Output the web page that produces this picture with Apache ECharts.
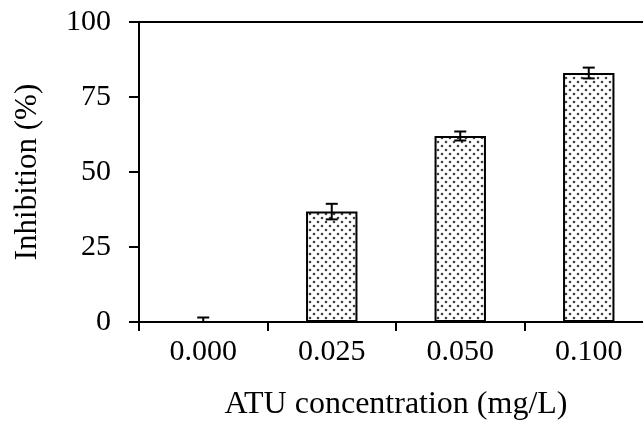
<!DOCTYPE html>
<html>
<head>
<meta charset="utf-8">
<script src="https://cdn.jsdelivr.net/npm/echarts@6/dist/echarts.min.js"></script>
<style>html,body{margin:0;padding:0;background:#fff}#c{width:643px;height:426px}</style>
</head>
<body>
<div id="c"></div>
<script>
var categories = ['0.000', '0.025', '0.050', '0.100'];
var inhibition = [0, 36.8, 62.0, 83.0];
var errors = [1.5, 2.6, 1.5, 1.8];
var yTicks = [0, 25, 50, 75, 100];

var FONT = '"Liberation Serif", "Times New Roman", serif';

function makePattern() {
  var c = document.createElement('canvas');
  c.width = 8; c.height = 8;
  var g = c.getContext('2d');
  g.fillStyle = '#ffffff';
  g.fillRect(0, 0, 8, 8);
  g.fillStyle = '#404040';
  g.beginPath(); g.arc(2, 2, 1.3, 0, Math.PI * 2); g.fill();
  g.beginPath(); g.arc(6, 6, 1.3, 0, Math.PI * 2); g.fill();
  return c;
}

var errData = inhibition.map(function (v, i) { return [i, Math.max(0, v - errors[i]), v + errors[i]]; });

var chart = echarts.init(document.getElementById('c'), null, { renderer: 'canvas' });
chart.setOption({
  animation: false,
  backgroundColor: '#ffffff',
  grid: { left: 139, width: 514, top: 22, height: 300, containLabel: false, outerBoundsMode: 'none' },
  xAxis: [{
    type: 'category',
    data: categories,
    position: 'bottom',
    name: 'ATU concentration (mg/L)',
    nameLocation: 'middle',
    nameGap: 67,
    nameTextStyle: { fontFamily: FONT, fontSize: 32, color: '#000' },
    axisLine: { show: true, onZero: false, lineStyle: { color: '#000', width: 2 } },
    axisTick: { show: true, alignWithLabel: false, length: 9, lineStyle: { color: '#000', width: 2 } },
    axisLabel: { fontFamily: FONT, fontSize: 30, color: '#000', margin: 15 },
    splitLine: { show: false }
  }, {
    type: 'category',
    data: categories,
    position: 'top',
    axisLine: { show: true, onZero: false, lineStyle: { color: '#000', width: 2 } },
    axisTick: { show: false },
    axisLabel: { show: false },
    splitLine: { show: false }
  }],
  yAxis: {
    type: 'value',
    min: 0, max: 100, interval: 25,
    name: 'Inhibition (%)',
    nameLocation: 'middle',
    nameGap: 96,
    nameRotate: 90,
    nameTextStyle: { fontFamily: FONT, fontSize: 31, color: '#000' },
    axisLine: { show: true, lineStyle: { color: '#000', width: 2 } },
    axisTick: { show: true, length: 10, lineStyle: { color: '#000', width: 2 } },
    axisLabel: {
      fontFamily: FONT, fontSize: 30, color: '#000', margin: 28,
      formatter: function (v) { return yTicks.indexOf(v) >= 0 ? String(v) : ''; }
    },
    splitLine: { show: false }
  },
  series: [{
    type: 'bar',
    data: inhibition,
    barWidth: '40%',
    itemStyle: {
      color: { image: makePattern(), repeat: 'repeat' },
      borderColor: '#000',
      borderWidth: 2
    }
  }, {
    type: 'custom',
    data: errData,
    z: 10,
    renderItem: function (params, api) {
      var x = api.value(0);
      var lo = api.coord([x, api.value(1)]);
      var hi = api.coord([x, api.value(2)]);
      var hw = 6;
      var st = { stroke: '#000', lineWidth: 2 };
      return {
        type: 'group',
        children: [
          { type: 'line', shape: { x1: hi[0], y1: hi[1], x2: lo[0], y2: lo[1] }, style: st },
          { type: 'line', shape: { x1: hi[0] - hw, y1: hi[1], x2: hi[0] + hw, y2: hi[1] }, style: st },
          { type: 'line', shape: { x1: lo[0] - hw, y1: lo[1], x2: lo[0] + hw, y2: lo[1] }, style: st }
        ]
      };
    }
  }]
});
</script>
</body>
</html>
